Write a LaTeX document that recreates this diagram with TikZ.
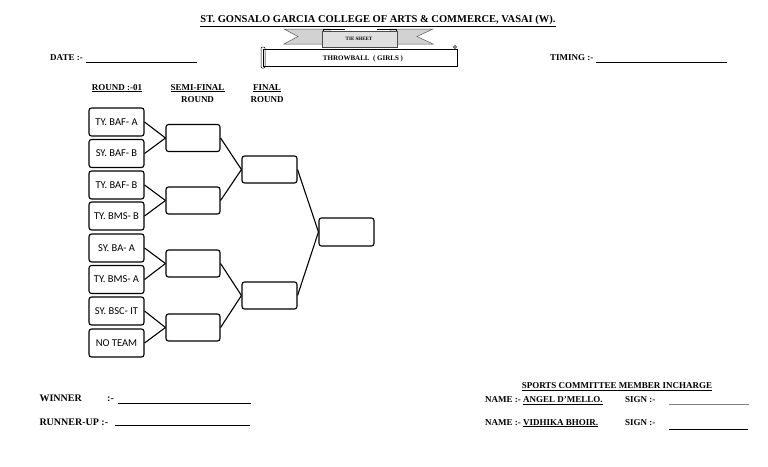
\documentclass[tikz,border=0pt]{standalone}
\usepackage{fontspec}
\setmainfont{Liberation Serif}
\newfontfamily\teamfont{Carlito}
\begin{document}
\begin{tikzpicture}[x=1pt,y=-1pt,
  teambox/.style={draw,line width=1.1pt,rounded corners=2.5pt,minimum width=55pt,minimum height=28pt,inner sep=0pt,font=\teamfont\fontsize{10.5}{12}\selectfont},
  emptybox/.style={draw,line width=1.1pt,rounded corners=2.5pt,minimum width=55pt,minimum height=27pt,inner sep=0pt},
  link/.style={line width=1.1pt},
  lbl/.style={font=\bfseries\fontsize{9}{11}\selectfont,inner sep=0pt,anchor=base},
  blank/.style={line width=0.8pt}]
\useasboundingbox (0,0) rectangle (768,466);
% title
\node[lbl,font=\bfseries\fontsize{10.5}{12}\selectfont] (title) at (378,22.7) {\underline{ST. GONSALO GARCIA COLLEGE OF ARTS \& COMMERCE, VASAI (W).}};
% ribbon
\fill[gray!35,draw=gray!70!black,line width=0.5pt] (284,29) -- (330,29) -- (330,44) -- (284,44) -- (298,36.5) -- cycle;
\fill[gray!35,draw=gray!70!black,line width=0.5pt] (433,29) -- (390,29) -- (390,44) -- (433,44) -- (417,36.5) -- cycle;
\fill[gray!25,draw=gray!60!black,line width=0.5pt] (322,31) rectangle (397,47);
\draw[line width=1pt] (323,31) -- (323,29) -- (345,29);
\draw[line width=1pt] (377,29) -- (396,29) -- (396,31);
\node[lbl,font=\bfseries\fontsize{5}{6}\selectfont] (tie) at (359,40.5) {TIE SHEET};
% scroll
\draw[line width=0.5pt] (263,49) rectangle (457,66);
\draw[line width=0.5pt,rounded corners=1pt] (261,47) rectangle (265,68);
\draw[line width=0.5pt] (455,47) circle (1.5pt);
\node[lbl,font=\bfseries\fontsize{7}{8}\selectfont] (game) at (363,60) {THROWBALL~~( GIRLS )};
% date & timing
\node[lbl,anchor=base west] (date) at (50,60.7) {DATE :-};
\draw[blank] (86,62.5) -- (197,62.5);
\node[lbl,anchor=base west] (timing) at (550,60.7) {TIMING :-};
\draw[blank] (596,62.5) -- (727,62.5);
% headers
\node[lbl] (h1) at (117,90) {\underline{ROUND :-01}};
\node[lbl] (h2) at (197.5,90) {\underline{SEMI-FINAL}};
\node[lbl] (h2b) at (197.5,102.7) {ROUND};
\node[lbl] (h3) at (267,90) {\underline{FINAL}};
\node[lbl] (h3b) at (267,102.7) {ROUND};
% teams
\node[teambox] (t1) at (116.5,122) {TY. BAF- A};
\node[teambox] (t2) at (116.5,153.5) {SY. BAF- B};
\node[teambox] (t3) at (116.5,185) {TY. BAF- B};
\node[teambox] (t4) at (116.5,216) {TY. BMS- B};
\node[teambox] (t5) at (116.5,248) {SY. BA- A};
\node[teambox] (t6) at (116.5,279.5) {TY. BMS- A};
\node[teambox] (t7) at (116.5,311) {SY. BSC- IT};
\node[teambox] (t8) at (116.5,343) {NO TEAM};
% semis
\node[emptybox,minimum width=54pt] (s1) at (193,138) {};
\node[emptybox,minimum width=54pt] (s2) at (193,200.5) {};
\node[emptybox,minimum width=54pt] (s3) at (193,263.5) {};
\node[emptybox,minimum width=54pt] (s4) at (193,327.5) {};
% finals
\node[emptybox] (f1) at (269.5,169.5) {};
\node[emptybox] (f2) at (269.5,295.5) {};
\node[emptybox,minimum height=28pt] (w) at (346.5,232) {};
% links
\foreach \a/\b in {t1/s1,t2/s1,t3/s2,t4/s2,t5/s3,t6/s3,t7/s4,t8/s4,s1/f1,s2/f1,s3/f2,s4/f2,f1/w,f2/w}
  \draw[link] (\a.east) -- (\b.west);
% bottom left
\node[lbl,anchor=base west,font=\bfseries\fontsize{10}{12}\selectfont] (win) at (39.3,401.7) {WINNER};
\node[lbl,anchor=base west,font=\bfseries\fontsize{10}{12}\selectfont] (winc) at (107,401.7) {:-};
\draw[blank] (118,403.3) -- (251,403.3);
\node[lbl,anchor=base west,font=\bfseries\fontsize{10}{12}\selectfont] (run) at (39.3,425) {RUNNER-UP :-};
\draw[blank] (115,425.5) -- (250,425.5);
% bottom right
\node[lbl] (comm) at (617,388.3) {\underline{SPORTS COMMITTEE MEMBER INCHARGE}};
\node[lbl,anchor=base west] (n1) at (485,402.7) {NAME :- \underline{ANGEL D'MELLO.}};
\node[lbl,anchor=base west] (sg1) at (625,402.7) {SIGN :-};
\draw[blank,gray,line width=0.6pt] (669,404) -- (749,404);
\node[lbl,anchor=base west] (n2) at (485,425) {NAME :- \underline{VIDHIKA BHOIR.}};
\node[lbl,anchor=base west] (sg2) at (625,425) {SIGN :-};
\draw[blank] (669,429.3) -- (748,429.3);
\end{tikzpicture}
\end{document}
